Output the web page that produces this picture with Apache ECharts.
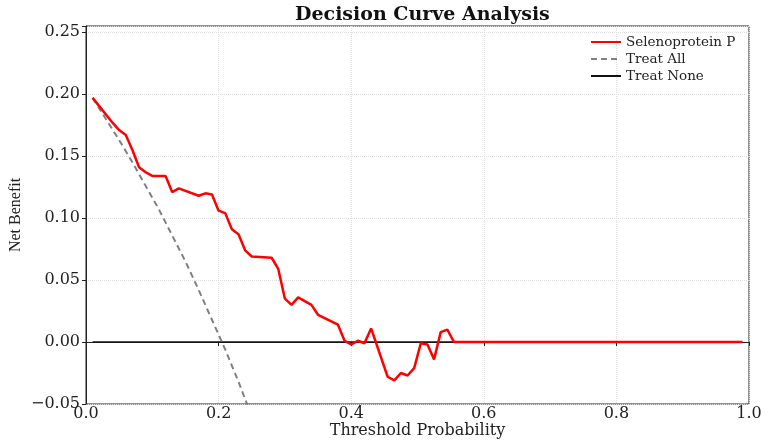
<!DOCTYPE html>
<html>
<head>
<meta charset="UTF-8">
<title>Decision Curve Analysis</title>
<script src="https://cdn.jsdelivr.net/npm/echarts@6/dist/echarts.min.js"></script>
<style>
  html, body { margin: 0; padding: 0; background: #fff; }
  #main { width: 771px; height: 443px; }
</style>
</head>
<body>
<div id="main"></div>
<script type="text/javascript">
// threshold probabilities and net benefit
var modelX = [0.01, 0.04, 0.05, 0.06, 0.07, 0.08, 0.09, 0.10, 0.12, 0.13, 0.14, 0.17, 0.18, 0.19, 0.20, 0.21,
  0.22, 0.23, 0.24, 0.25, 0.28, 0.29, 0.30, 0.31, 0.32, 0.34, 0.35, 0.38, 0.39, 0.40, 0.41, 0.42, 0.43,
  0.455, 0.465, 0.475, 0.485, 0.495, 0.505, 0.515, 0.525, 0.535, 0.545, 0.555, 0.99];
var modelY = [0.197, 0.177, 0.171, 0.167, 0.155, 0.141, 0.137, 0.134, 0.134, 0.121, 0.124, 0.118, 0.120, 0.119, 0.106, 0.104,
  0.091, 0.087, 0.074, 0.069, 0.068, 0.059, 0.035, 0.030, 0.036, 0.030, 0.022, 0.014, 0.001, -0.002, 0.001, -0.001, 0.011,
  -0.028, -0.031, -0.025, -0.027, -0.021, -0.001, -0.002, -0.014, 0.008, 0.010, 0.000, 0.000];

var allX = [0.01, 0.03, 0.05, 0.07, 0.09, 0.11, 0.13, 0.15, 0.17, 0.19, 0.21, 0.23, 0.25];
var allY = [0.197, 0.180, 0.163, 0.145, 0.126, 0.107, 0.086, 0.065, 0.042, 0.018, -0.006, -0.032, -0.060];

var noneX = [0.01, 0.99];
var noneY = [0, 0];

var seriesNames = ['Selenoprotein P', 'Treat All', 'Treat None'];

function pairs(xs, ys) {
  var out = [];
  for (var i = 0; i < xs.length; i++) out.push([xs[i], ys[i]]);
  return out;
}

var serif = 'DejaVu Serif';
var myChart = echarts.init(document.getElementById('main'));

myChart.setOption({
  animation: false,
  backgroundColor: '#fff',
  title: {
    text: 'Decision Curve Analysis',
    left: 290,
    top: 1,
    textStyle: { fontFamily: serif, fontWeight: 'bold', fontSize: 19, color: '#111' }
  },
  legend: {
    data: seriesNames,
    orient: 'vertical',
    left: 585,
    top: 30,
    itemWidth: 30,
    itemHeight: 12,
    itemGap: 3,
    itemStyle: { opacity: 0 },
    textStyle: { fontFamily: serif, fontSize: 13.5, color: '#222' }
  },
  grid: {
    left: 86, right: 22, top: 26, bottom: 39,
    outerBoundsMode: 'none',
    containLabel: false,
    show: true, borderColor: '#222', borderWidth: 1
  },
  xAxis: {
    type: 'value',
    min: 0, max: 1, interval: 0.2,
    name: 'Threshold Probability',
    nameLocation: 'middle',
    nameGap: 19,
    nameMoveOverlap: false,
    nameTextStyle: { fontFamily: serif, fontSize: 16, color: '#222' },
    axisLine: { lineStyle: { color: '#222', width: 1 } },
    axisTick: { show: true, length: 4, lineStyle: { color: '#222' } },
    axisLabel: {
      fontFamily: serif, fontSize: 16, color: '#222', margin: 2,
      formatter: function (v) { return v.toFixed(1); }
    },
    splitLine: { show: true, lineStyle: { color: '#ddd', type: 'dotted' } }
  },
  yAxis: {
    type: 'value',
    min: -0.05, max: 0.255, interval: 0.05,
    name: 'Net Benefit',
    nameLocation: 'middle',
    nameGap: 62,
    nameMoveOverlap: false,
    nameTextStyle: { fontFamily: 'Liberation Serif', fontSize: 16, color: '#222' },
    axisLine: { lineStyle: { color: '#222', width: 1 } },
    axisTick: { show: true, length: 4, lineStyle: { color: '#222' } },
    axisLabel: {
      fontFamily: serif, fontSize: 16, color: '#222', margin: 6,
      formatter: function (v) {
        var k = v * 20;
        if (Math.abs(k - Math.round(k)) > 1e-6) return '';
        var s = Math.abs(v).toFixed(2);
        return v < -1e-9 ? '\u2212' + s : s;
      }
    },
    splitLine: { show: true, lineStyle: { color: '#ddd', type: 'dotted' } }
  },
  series: [{
    name: seriesNames[0],
    type: 'line',
    data: pairs(modelX, modelY),
    symbol: 'none',
    z: 4,
    lineStyle: { color: '#ff0000', width: 2.5 },
    itemStyle: { color: '#ff0000' }
  }, {
    name: seriesNames[1],
    type: 'line',
    data: pairs(allX, allY),
    symbol: 'none',
    z: 3,
    lineStyle: { color: '#808080', width: 2, type: [6, 4] },
    itemStyle: { color: '#808080' }
  }, {
    name: seriesNames[2],
    type: 'line',
    data: pairs(noneX, noneY),
    symbol: 'none',
    z: 2,
    lineStyle: { color: '#111', width: 1.5 },
    itemStyle: { color: '#111' }
  }]
});
</script>
</body>
</html>
